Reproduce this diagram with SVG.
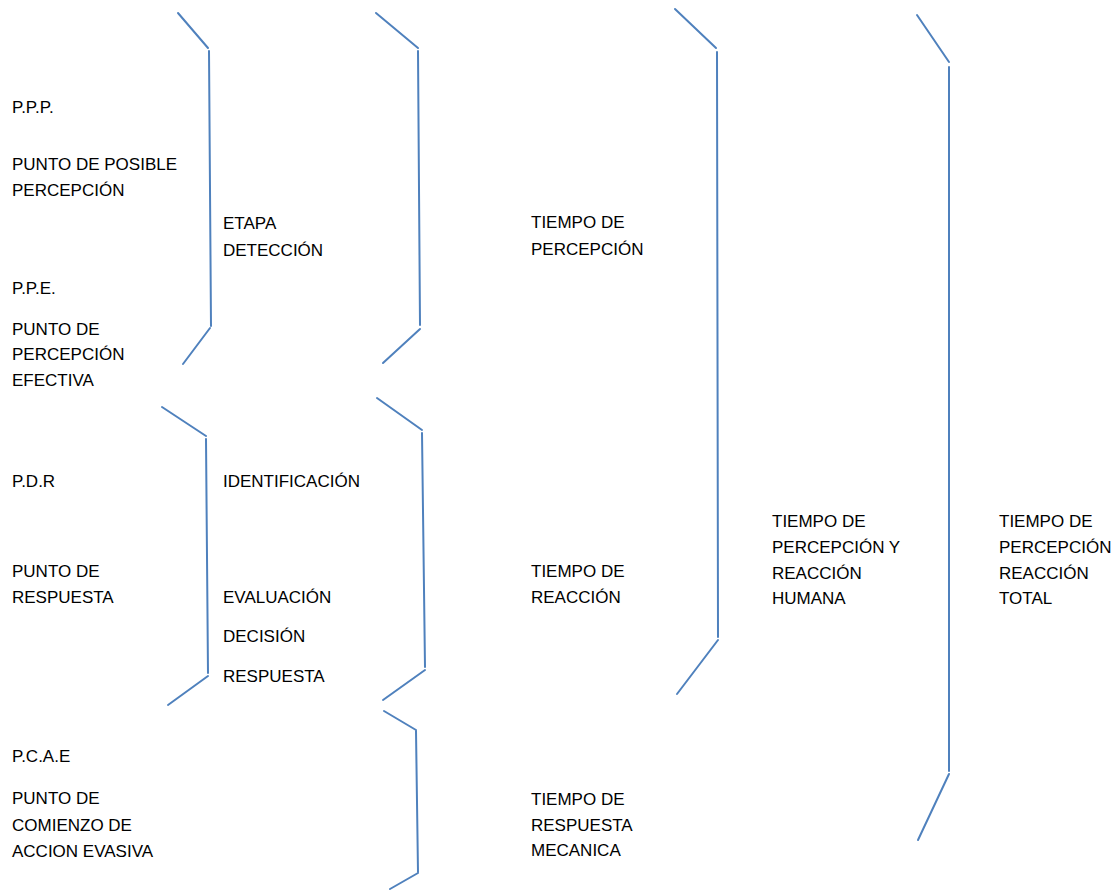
<svg xmlns="http://www.w3.org/2000/svg" width="1113" height="891" viewBox="0 0 1113 891">
<style>
.t{font-family:"Liberation Sans",Arial,sans-serif;font-size:17px;fill:#000}
.b{fill:none;stroke:#4F81BD;stroke-width:2;stroke-linecap:round;stroke-linejoin:miter}
</style>
<rect width="1113" height="891" fill="#fff"/>
<g id="brackets">
<g id="br-deteccion"><polyline class="b" points="178,13 208,48"/><polyline class="b" points="209,51 211,326"/><polyline class="b" points="210,328 183,364"/></g>
<g id="br-percepcion"><polyline class="b" points="376,13 418,48"/><polyline class="b" points="418,51 420,325"/><polyline class="b" points="420,329 383,363"/></g>
<g id="br-identificacion"><polyline class="b" points="162,407 206,436"/><polyline class="b" points="206,439 208,673"/><polyline class="b" points="208,676 168,705"/></g>
<g id="br-reaccion"><polyline class="b" points="377,398 422,430"/><polyline class="b" points="422,433 425,667"/><polyline class="b" points="425,670 383,700"/></g>
<g id="br-mecanica"><polyline class="b" points="384,711 416,730"/><polyline class="b" points="416,731 418,872"/><polyline class="b" points="418,873 390,889"/></g>
<g id="br-humana"><polyline class="b" points="675,9 716,48"/><polyline class="b" points="717,52 718,637"/><polyline class="b" points="718,640 677,694"/></g>
<g id="br-total"><polyline class="b" points="917,15 949,62"/><polyline class="b" points="949,67 949,771"/><polyline class="b" points="949,774 918,840"/></g>
</g>
<g id="ppp"><text class="t" x="12" y="113">P.P.P.</text><text class="t" x="12" y="170">PUNTO DE POSIBLE</text><text class="t" x="12" y="196">PERCEPCIÓN</text></g>
<g id="ppe"><text class="t" x="12" y="294">P.P.E.</text><text class="t" x="12" y="335">PUNTO DE</text><text class="t" x="12" y="360">PERCEPCIÓN</text><text class="t" x="12" y="386">EFECTIVA</text></g>
<g id="pdr"><text class="t" x="12" y="487">P.D.R</text><text class="t" x="12" y="577">PUNTO DE</text><text class="t" x="12" y="603">RESPUESTA</text></g>
<g id="pcae"><text class="t" x="12" y="762">P.C.A.E</text><text class="t" x="12" y="804">PUNTO DE</text><text class="t" x="12" y="831">COMIENZO DE</text><text class="t" x="12" y="857">ACCION EVASIVA</text></g>
<g id="etapa"><text class="t" x="223" y="229">ETAPA</text><text class="t" x="223" y="256">DETECCIÓN</text></g>
<g id="etapas2"><text class="t" x="223" y="487">IDENTIFICACIÓN</text><text class="t" x="223" y="603">EVALUACIÓN</text><text class="t" x="223" y="642">DECISIÓN</text><text class="t" x="223" y="682">RESPUESTA</text></g>
<g id="t-percepcion"><text class="t" x="531" y="228">TIEMPO DE</text><text class="t" x="531" y="255">PERCEPCIÓN</text></g>
<g id="t-reaccion"><text class="t" x="531" y="577">TIEMPO DE</text><text class="t" x="531" y="603">REACCIÓN</text></g>
<g id="t-mecanica"><text class="t" x="531" y="805">TIEMPO DE</text><text class="t" x="531" y="831">RESPUESTA</text><text class="t" x="531" y="856">MECANICA</text></g>
<g id="t-humana"><text class="t" x="772" y="527">TIEMPO DE</text><text class="t" x="772" y="553">PERCEPCIÓN Y</text><text class="t" x="772" y="579">REACCIÓN</text><text class="t" x="772" y="604">HUMANA</text></g>
<g id="t-total"><text class="t" x="999" y="527">TIEMPO DE</text><text class="t" x="999" y="553">PERCEPCIÓN</text><text class="t" x="999" y="579">REACCIÓN</text><text class="t" x="999" y="604">TOTAL</text></g>
</svg>
